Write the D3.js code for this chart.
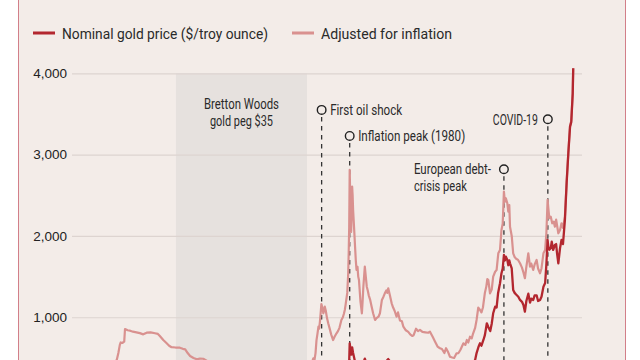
<!DOCTYPE html>
<html><head><meta charset="utf-8">
<script src="https://cdn.jsdelivr.net/npm/d3@7"></script>
<style>
body{margin:0;background:#fff;}
svg{display:block;}
</style></head><body>
<svg id="c" width="640" height="360"></svg>
<script>
// ---- DATA ----
const seriesNames = ["Nominal gold price ($/troy ounce)", "Adjusted for inflation"];

const nominalYears = [1923,1932.9,1933.3,1933.6,1933.96,1967.9,1968.3,1969.2,1970.0,1971.0,1971.5,1972.0,1972.5,1973.0,1973.2,1973.6,1973.9,1974.2,1974.6,1974.9,1975.6,1976.6,1977.3,1978.3,1979.0,1979.3,1979.7,1979.9,1980.0,1980.2,1980.35,1980.5,1980.7,1981.1,1981.4,1981.9,1982.5,1982.8,1983.1,1983.5,1984.2,1985.2,1985.9,1986.6,1987.2,1987.9,1988.6,1989.6,1990.3,1991.0,1992.4,1993.6,1994.4,1996.1,1997.5,1998.5,1999.4,1999.75,2000.6,2001.2,2001.9,2002.7,2003.3,
2004.0,2004.65,2005.2,2005.7,2006.0,2006.4,2006.7,2007.0,2007.4,2007.7,2008.1,2008.4,2008.8,2009.1,2009.4,2009.8,2010.1,2010.4,2010.8,2011.1,2011.35,2011.6,2011.8,2012.0,2012.3,2012.5,2012.7,2012.85,2013.2,2013.5,2013.8,2014.1,2014.55,2014.9,2015.3,2015.6,2015.9,2016.2,2016.6,2016.95,2017.2,2017.6,2017.9,2018.3,2018.6,2019.0,2019.3,2019.7,2020.05,2020.3,2020.55,2020.7,2020.9,2021.2,2021.4,2021.7,2022.05,2022.3,2022.5,2022.75,2023.1,2023.4,2023.7,2024.1,2024.45,2024.8,2025.15,2025.4,2025.7,2025.8];
const nominalValues = [20.67,20.67,26,30,35,35,39,43,35,38,41,48,65,66,84,120,100,170,155,183,165,110,148,180,227,245,380,460,680,592,540,631,562,452,430,410,320,440,492,420,380,300,330,400,440,486,430,370,400,360,340,380,385,390,325,295,258,300,275,262,280,315,340,
405,420,430,475,560,638,680,650,721,780,926,880,830,920,1049,1130,1120,1295,1418,1541,1600,1766,1700,1745,1705,1640,1700,1664,1600,1336,1300,1280,1253,1213,1190,1150,1069,1200,1290,1180,1230,1213,1270,1270,1200,1213,1253,1376,1420,1650,1951,1868,1830,1850,1930,1828,1889,1900,1780,1664,1850,1951,1900,2197,2648,3017,3344,3400,3755,4063];

const adjustedYears = [1923,1925,1927,1929,1930,1931,1932.0,1932.26,1932.6,1932.9,1933.08,1933.4,1933.8,1933.96,1934.5,1935.0,1935.6,1936.3,1937.0,1937.7,1938.4,1939.2,1940.1,1940.7,1941.1,1941.8,1942.5,1943.0,1943.5,1944.3,1945.2,1945.8,1946.3,1946.8,1947.3,1948.0,1948.7,1949.3,1950.0,1950.6,1951,1952,1953,1955,1957,1960,1963,1965,1967,1968.3,1969.2,1970,1971,1971.5,1972.0,1972.3,
1972.55,1972.8,1973.0,1973.2,1973.4,1973.6,1973.75,1973.9,1974.05,1974.2,1974.4,1974.6,1974.75,1974.9,1975.1,1975.35,1975.6,1975.9,1976.2,1976.6,1976.9,1977.3,1977.6,1977.9,1978.3,1978.6,1978.8,1979.0,1979.15,1979.3,1979.5,1979.7,1979.8,1979.9,1980.0,1980.1,1980.2,1980.3,1980.4,1980.5,1980.6,1980.7,1980.9,1981.1,1981.25,1981.4,1981.6,1981.75,1981.9,1982.2,1982.5,1982.65,1982.8,1982.95,1983.1,1983.3,1983.5,1983.7,1983.9,1984.2,1984.5,1984.8,1985.2,1985.5,1985.9,1986.2,1986.6,1986.9,1987.2,1987.5,1987.7,1987.9,1988.2,1988.6,1988.9,1989.2,1989.6,1989.9,1990.3,1990.7,1991.0,1991.5,1992.0,1992.4,1992.8,1993.1,1993.6,1994.0,1994.4,1994.9,1995.5,1996.1,1996.45,1997.0,1997.5,1998.0,1998.5,1998.9,1999.4,1999.75,2000.1,2000.55,2001.0,2001.4,2001.9,2002.3,2002.7,2003.3,2003.7,
2004.0,2004.3,2004.65,2005.0,2005.3,2005.7,2006.0,2006.35,2006.7,2007.0,2007.3,2007.7,2008.0,2008.2,2008.4,2008.75,2009.1,2009.4,2009.8,2010.1,2010.45,2010.8,2011.1,2011.35,2011.6,2011.8,2012.0,2012.3,2012.5,2012.7,2012.85,2013.2,2013.5,2013.8,2014.1,2014.5,2014.9,2015.3,2015.6,2015.9,2016.2,2016.6,2016.95,2017.2,2017.6,2017.9,2018.3,2018.6,2019.0,2019.3,2019.7,2020.05,2020.3,2020.55,2020.7,2020.9,2021.2,2021.5,2021.8,2022.05,2022.3,2022.75,2023.1,2023.4,2023.7,2024.1,2024.45,2024.8,2025.15,2025.4,2025.7,2025.8];
const adjustedValues = [388,378,384,388,398,436,462,472,560,660,690,684,700,856,840,835,823,815,805,790,811,815,803,795,770,720,680,650,632,628,626,612,606,560,524,500,483,492,490,470,450,440,437,437,410,394,380,367,346,350,370,320,300,325,390,450,
495,480,560,720,800,885,860,946,1050,1163,1120,1049,1080,1130,1080,990,926,860,790,720,760,803,830,870,967,1000,1040,1090,1150,1213,1300,1541,1800,2114,2812,2500,2443,2050,2300,2606,2500,2320,2100,1868,1700,1582,1620,1500,1459,1200,1049,1200,1376,1500,1622,1500,1376,1330,1270,1213,1130,1050,967,990,1007,1050,1213,1250,1295,1330,1300,1357,1280,1172,1120,1080,1007,1060,960,950,884,840,820,790,770,780,860,830,845,820,815,810,823,760,700,640,619,610,560,620,580,515,505,500,557,560,600,680,660,
721,690,761,740,803,870,967,1120,1090,1060,1120,1300,1380,1470,1459,1295,1340,1500,1560,1580,1787,1828,2074,2150,2545,2420,2464,2402,2300,2380,2114,2000,1787,1740,1720,1705,1664,1610,1550,1480,1620,1787,1622,1660,1582,1650,1705,1600,1541,1600,1787,1828,2033,2443,2341,2218,2237,2156,2176,2114,2200,2033,2074,2156,2100,2237,2660,3030,3350,3420,3760,4063];

const yTicks = [1000, 2000, 3000, 4000];
const bandYears = [1944.4, 1971.25];
const bandLabel = ["Bretton Woods", "gold peg $35"];
const eventYears = [1974.25, 1980.0, 2011.6, 2020.6];
const eventLabels = [["First oil shock"], ["Inflation peak (1980)"], ["European debt-", "crisis peak"], ["COVID-19"]];

// ---- LAYOUT ----
const W = 640, H = 360;
const BG = "#f3ece8", RED = "#b3272f", PINK = "#d9918f", INK = "#2a2a2a";
const COND = "Roboto,'Liberation Sans',sans-serif";
const svg = d3.select("#c");

// squeeze text to the measured width of the reference's condensed face
function fit(sel, w) {
  sel.attr("textLength", w).attr("lengthAdjust", "spacingAndGlyphs");
  return sel;
}
function condText(g, px) {
  return g.append("text").attr("font-family", COND).attr("font-size", px).attr("fill", INK);
}

svg.append("rect").attr("x", 18.5).attr("y", -5).attr("width", 607).attr("height", H + 10)
  .attr("fill", BG).attr("stroke", "#d27f89").attr("stroke-width", 1);

const x = d3.scaleLinear().domain([1923.1, 2027.6]).range([72, 582]);
const y = d3.scaleLinear().domain([0, 4000]).range([398.6, 73.3]);

// Bretton Woods band
const bx0 = x(bandYears[0]), bx1 = x(bandYears[1]), bmid = (bx0 + bx1) / 2;
svg.append("rect").attr("x", bx0).attr("y", y(4000))
  .attr("width", bx1 - bx0).attr("height", H - y(4000)).attr("fill", "#e6e1de");
const bandW = [75, 63];
bandLabel.forEach((s, i) => {
  fit(condText(svg, 14).attr("x", bmid).attr("y", 109 + i * 16.5).attr("text-anchor", "middle").text(s), bandW[i]);
});

// gridlines
const grid = svg.append("g").attr("transform", "translate(72,0)")
  .call(d3.axisRight(y).tickValues(yTicks).tickSize(510).tickFormat(""));
grid.select(".domain").remove();
grid.selectAll("line").attr("stroke", "#ddd4d0").attr("stroke-width", 1.2);

// y labels
const ax = svg.append("g").attr("transform", "translate(67,0)")
  .call(d3.axisLeft(y).tickValues(yTicks).tickSize(0).tickPadding(0).tickFormat(d3.format(",")));
ax.select(".domain").remove();
ax.selectAll("text").attr("font-family", "'Liberation Sans',Arial,sans-serif").attr("font-size", 13.5).attr("fill", "#222");

// event dashed lines
const evY = [3550, 3230, 2820, 3435]; // annotation heights (value units)
eventYears.forEach((yr, i) => {
  svg.append("line").attr("x1", x(yr)).attr("x2", x(yr)).attr("y1", y(evY[i]) + 7).attr("y2", H)
    .attr("stroke", "#333").attr("stroke-width", 1.3).attr("stroke-dasharray", "4.5,4.5");
});

// series lines
const line = d3.line().x(d => x(d[0])).y(d => y(d[1]));
svg.append("path").datum(d3.zip(adjustedYears, adjustedValues)).attr("d", line)
  .attr("fill", "none").attr("stroke", PINK).attr("stroke-width", 2.2).attr("stroke-linejoin", "round");
svg.append("path").datum(d3.zip(nominalYears, nominalValues)).attr("d", line)
  .attr("fill", "none").attr("stroke", RED).attr("stroke-width", 2.3).attr("stroke-linejoin", "round");

// event markers + labels
const evW = [[72], [107], [77, 53], [45]];
eventYears.forEach((yr, i) => {
  const cx = x(yr), cy = y(evY[i]);
  svg.append("circle").attr("cx", cx).attr("cy", cy).attr("r", 4.3)
    .attr("fill", BG).attr("stroke", "#222").attr("stroke-width", 1.4);
  const lab = eventLabels[i];
  if (i < 2) {
    fit(condText(svg, 15).attr("x", cx + 8.5).attr("y", cy + 5.5).text(lab[0]), evW[i][0]);
  } else if (i === 3) {
    fit(condText(svg, 15).attr("x", cx - 10 - evW[i][0]).attr("y", cy + 5.5).text(lab[0]), evW[i][0]);
  } else {
    const left = cx - 13 - evW[i][0];
    fit(condText(svg, 14).attr("x", left).attr("y", cy + 5).text(lab[0]), evW[i][0]);
    fit(condText(svg, 14).attr("x", left).attr("y", cy + 21.5).text(lab[1]), evW[i][1]);
  }
});

// legend
const leg = [{x: 33, c: RED, tw: 206}, {x: 292, c: PINK, tw: 131}];
leg.forEach((l, i) => {
  svg.append("line").attr("x1", l.x).attr("x2", l.x + 22).attr("y1", 33).attr("y2", 33)
    .attr("stroke", l.c).attr("stroke-width", 3);
  fit(condText(svg, 15.5).attr("x", l.x + 29).attr("y", 38.5).text(seriesNames[i]), l.tw);
});
</script>
</body></html>
